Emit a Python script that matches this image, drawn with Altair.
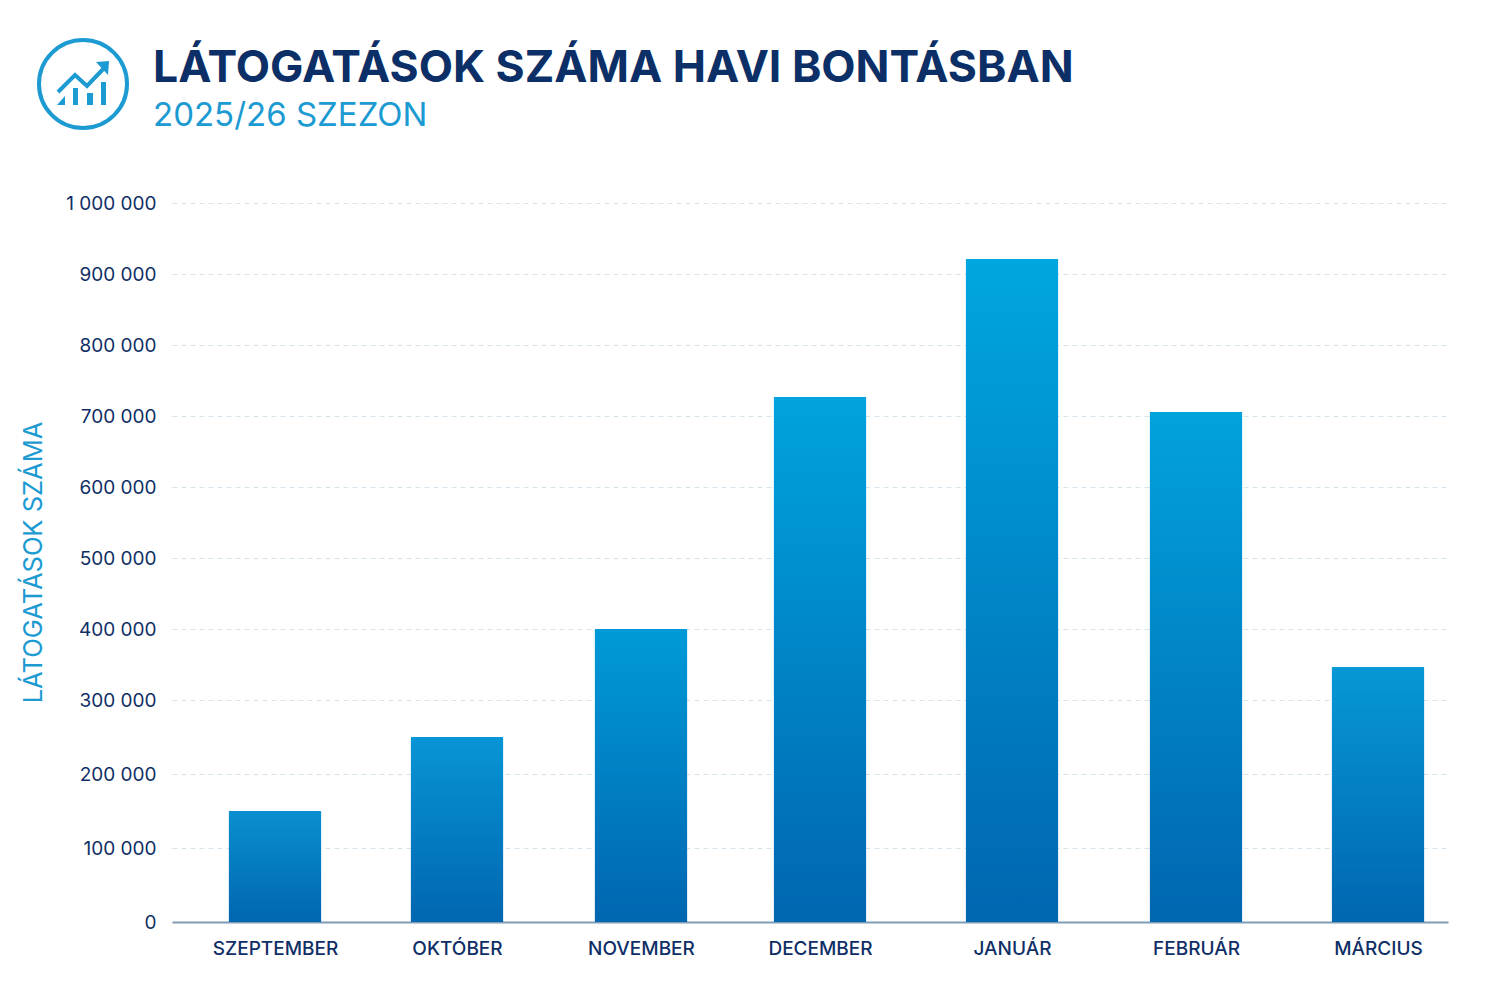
import altair as alt
import pandas as pd

months = ["SZEPTEMBER", "OKTÓBER", "NOVEMBER", "DECEMBER", "JANUÁR", "FEBRUÁR", "MÁRCIUS"]
visits = [150000, 250000, 400000, 727000, 921000, 706000, 347000]
y_ticks = [0, 100000, 200000, 300000, 400000, 500000, 600000, 700000, 800000, 900000, 1000000]

NAVY = "#0f2f66"
TITLE = "#0b2f66"
CYAN = "#1c9ad2"
FONT = "Inter"
BOTTOM = "#0066b0"
tops = ["#0a8fcf", "#0895d5", "#009ad8", "#00a3de", "#00a6e0", "#02a2dd", "#0798d6"]

df = pd.DataFrame({"idx": list(range(len(months))), "month": months, "visits": visits})

# Drawn axis of the reference is not quite even, so both scales are piecewise
x_scale = alt.Scale(domain=[-1, 0, 1, 2, 3, 4, 5, 6, 7],
                    range=[0, 103, 285, 469, 648, 840, 1024, 1206, 1276])
y_scale = alt.Scale(domain=[0, 300000, 1000000], range=[719, 497, 0])

W, H = 1276, 719
names = "[" + ",".join(f"'{m}'" for m in months) + "]"

x_axis = alt.Axis(values=list(range(len(months))), labelExpr=f"{names}[datum.value]", title=None,
                  grid=False, ticks=False, domainColor="#7f9bb5", domainWidth=2,
                  labelFont=FONT, labelFontSize=19, labelFontWeight=500, labelColor=NAVY,
                  labelPadding=17, labelFlush=False, labelOverlap=False)
y_axis = alt.Axis(values=y_ticks, labelExpr="join(split(format(datum.value, ','), ','), ' ')",
                  title="LÁTOGATÁSOK SZÁMA", titleFont=FONT, titleFontSize=25.5, titleFontWeight=400,
                  titleColor=CYAN, titleX=-126, titleY=359, domain=False, ticks=False,
                  gridColor="#d5e4ed", gridDash=[5, 4], gridWidth=1,
                  labelFont=FONT, labelFontSize=19, labelFontWeight=400, labelColor=NAVY, labelPadding=16)

layers = []
for i, m in enumerate(months):
    grad = alt.Gradient(gradient="linear", x1=0, x2=0, y1=0, y2=1,
                        stops=[alt.GradientStop(color=tops[i], offset=0),
                               alt.GradientStop(color=BOTTOM, offset=1)])
    layers.append(
        alt.Chart(df[df.idx == i]).mark_bar(color=grad, size=93, orient="vertical",
                                            cornerRadiusTopLeft=1.5, cornerRadiusTopRight=1.5).encode(
            x=alt.X("idx:Q", scale=x_scale, axis=x_axis),
            y=alt.Y("visits:Q", scale=y_scale, axis=y_axis),
        )
    )

dummy = pd.DataFrame({"a": [0]})

def text(label, x, y, size, weight, color):
    return alt.Chart(pd.DataFrame({"t": [label]})).mark_text(
        align="left", baseline="alphabetic", font=FONT, fontSize=size, fontWeight=weight, color=color
    ).encode(x=alt.value(x), y=alt.value(y), text="t:N")

title = text("LÁTOGATÁSOK SZÁMA HAVI BONTÁSBAN", -19, -121, 44.5, 700, TITLE)
subtitle = text("2025/26 SZEZON", -19, -77, 33, 400, CYAN)

# icon, centred at the ring's centre; paths in px around that centre (size 4 => scale 1)
cx, cy = 83 - 172, 84 - 203
ring = alt.Chart(dummy).mark_point(shape="circle", size=7744, filled=False, stroke=CYAN, strokeWidth=4,
                                   opacity=1).encode(x=alt.value(cx), y=alt.value(cy))
trend = alt.Chart(dummy).mark_point(
    shape="M-25,8 L-8,-9 L4,2 L24,-19", size=4, filled=False, stroke=CYAN, strokeWidth=4, opacity=1
).encode(x=alt.value(cx), y=alt.value(cy))
solid = alt.Chart(dummy).mark_point(
    shape=("M13,-22 L26,-23 L25,-9 Z "
           "M-26,21 L-18,12 L-18,21 Z M-10,4 L-5,4 L-5,21 L-10,21 Z "
           "M4,9 L10,9 L10,21 L4,21 Z M18,-2 L23,-2 L23,21 L18,21 Z"),
    size=4, filled=True, fill=CYAN, strokeWidth=0, opacity=1
).encode(x=alt.value(cx), y=alt.value(cy))

chart = alt.layer(*layers, title, subtitle, ring, trend, solid).properties(
    width=W, height=H,
    autosize=alt.AutoSizeParams(type="none"),
    padding={"left": 164, "top": 195, "right": 40, "bottom": 70},
    background="#ffffff",
).configure_view(stroke=None)

chart.save("out.html", embed_options={"renderer": "svg", "actions": False})
